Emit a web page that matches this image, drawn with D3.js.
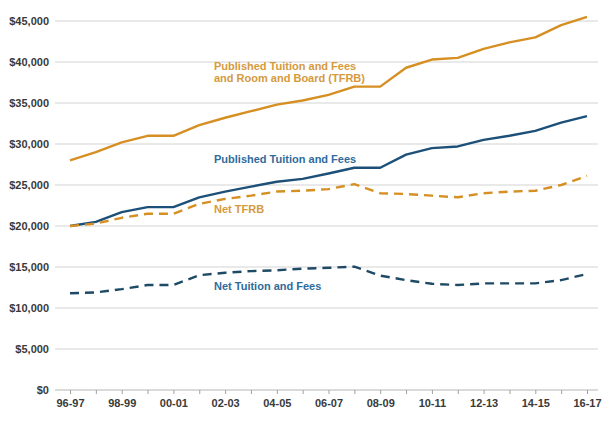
<!DOCTYPE html>
<html><head><meta charset="utf-8">
<script src="https://cdn.jsdelivr.net/npm/d3@7"></script>
<style>
html,body{margin:0;padding:0;background:#fff;}
svg{display:block;font-family:"Liberation Sans",Arial,sans-serif;}
</style></head>
<body>
<svg id="chart" width="609" height="421"></svg>
<script>
const years = ["96-97","97-98","98-99","99-00","00-01","01-02","02-03","03-04","04-05","05-06","06-07","07-08","08-09","09-10","10-11","11-12","12-13","13-14","14-15","15-16","16-17"];
const tickLabels = ["96-97","98-99","00-01","02-03","04-05","06-07","08-09","10-11","12-13","14-15","16-17"];
const yTicks = [0,5000,10000,15000,20000,25000,30000,35000,40000,45000];
const publishedTFRB = [28000,29000,30200,31000,31000,32300,33200,34000,34800,35300,36000,37000,37000,39300,40300,40500,41600,42400,43000,44500,45500];
const publishedTF   = [20000,20500,21700,22300,22300,23500,24200,24800,25400,25750,26400,27100,27100,28700,29500,29700,30500,31000,31600,32600,33400];
const netTFRB       = [20000,20300,21000,21500,21500,22700,23300,23700,24200,24300,24500,25100,24000,23900,23700,23500,24000,24200,24300,25000,26100];
const netTF         = [11800,11900,12300,12800,12800,14000,14300,14500,14600,14800,14900,15050,13950,13400,12950,12800,13000,13000,13000,13400,14150];

const seriesNames = ["Published Tuition and Fees|and Room and Board (TFRB)","Published Tuition and Fees","Net TFRB","Net Tuition and Fees"];

const svg = d3.select("#chart");
const x = d3.scalePoint().domain(years).range([70, 587]);
const y = d3.scaleLinear().domain([0, 45000]).range([390, 21]);

// gridlines
svg.append("g").selectAll("line").data(yTicks.filter(d => d > 0)).join("line")
  .attr("x1", 55).attr("x2", 598)
  .attr("y1", d => y(d)).attr("y2", d => y(d))
  .attr("stroke", "#e2e2e2").attr("stroke-width", 1.5);

// y labels
svg.append("g").selectAll("text").data(yTicks).join("text")
  .attr("x", 49).attr("y", d => y(d)).attr("dy", "0.35em")
  .attr("text-anchor", "end")
  .attr("font-size", 11).attr("font-weight", "bold").attr("fill", "#3a3a3a")
  .text(d => "$" + d3.format(",")(d));

// x axis
const xAxis = d3.axisBottom(x).tickSize(4).tickSizeOuter(0)
  .tickFormat(d => tickLabels.includes(d) ? d : "");
const gx = svg.append("g").attr("transform", "translate(0,390)").call(xAxis);
gx.select(".domain").attr("d", "M55,0H598").attr("stroke", "#b5b5b5").attr("stroke-width", 1.2);
gx.selectAll(".tick line").attr("stroke", "#a0a0a0");
gx.selectAll(".tick text").attr("font-size", 11).attr("font-weight", "bold")
  .attr("fill", "#3a3a3a").attr("font-family", "Liberation Sans, Arial, sans-serif").attr("dy", "0.9em");

const line = d3.line().x((d, i) => x(years[i])).y(d => y(d));
const orange = "#d68f22", blue = "#1c5078";
const defs = [
  {data: publishedTFRB, color: orange, dash: null},
  {data: publishedTF, color: blue, dash: null},
  {data: netTFRB, color: orange, dash: "9,6"},
  {data: netTF, color: "#1f4a66", dash: "9,6"}
];
defs.forEach(s => {
  svg.append("path").datum(s.data).attr("d", line)
    .attr("fill", "none").attr("stroke", s.color).attr("stroke-width", 2.4)
    .attr("stroke-dasharray", s.dash).attr("stroke-linejoin", "round");
});

// labels
const labels = [
  {text: seriesNames[0], color: "#d59a3e", x: 214, y: 70},
  {text: seriesNames[1], color: "#2f6c9c", x: 214, y: 163},
  {text: seriesNames[2], color: "#d59a3e", x: 214, y: 213},
  {text: seriesNames[3], color: "#2f6c9c", x: 214, y: 290}
];
labels.forEach(l => {
  const t = svg.append("text").attr("x", l.x).attr("y", l.y)
    .attr("font-size", 11).attr("font-weight", "bold").attr("fill", l.color);
  l.text.split("|").forEach((s, i) => {
    t.append("tspan").attr("x", l.x).attr("dy", i === 0 ? 0 : 12).text(s);
  });
});
</script>
</body></html>
